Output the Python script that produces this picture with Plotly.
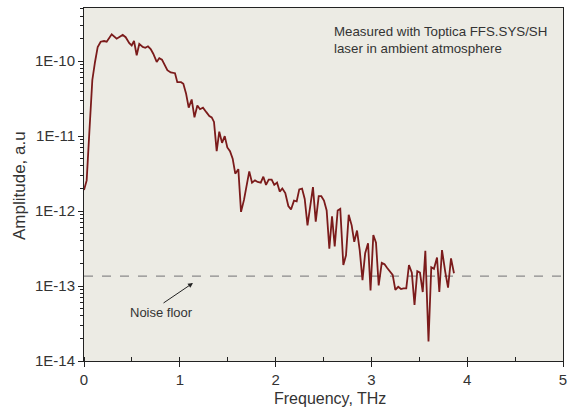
import plotly.graph_objects as go

freq_thz = [
    0.000, 0.028, 0.057, 0.087, 0.115, 0.143, 0.174, 0.209, 0.237, 0.289,
    0.341, 0.404, 0.435, 0.473, 0.498, 0.522, 0.550, 0.577, 0.613, 0.640,
    0.668, 0.696, 0.723, 0.759, 0.786, 0.814, 0.842, 0.870, 0.905, 0.950,
    0.974, 1.013, 1.037, 1.065, 1.093, 1.124, 1.153, 1.183, 1.211, 1.242,
    1.277, 1.308, 1.333, 1.357, 1.385, 1.412, 1.441, 1.469, 1.496, 1.524,
    1.552, 1.579, 1.611, 1.639, 1.670, 1.698, 1.725, 1.754, 1.785, 1.813,
    1.845, 1.872, 1.900, 1.928, 1.959, 1.986, 2.015, 2.043, 2.070, 2.101,
    2.133, 2.161, 2.192, 2.220, 2.247, 2.276, 2.304, 2.333, 2.362, 2.390,
    2.419, 2.450, 2.477, 2.505, 2.533, 2.561, 2.589, 2.617, 2.648, 2.675,
    2.707, 2.735, 2.763, 2.794, 2.821, 2.850, 2.878, 2.907, 2.935, 2.965,
    2.991, 3.020, 3.048, 3.076, 3.108, 3.137, 3.165, 3.194, 3.222, 3.250,
    3.280, 3.309, 3.335, 3.364, 3.392, 3.422, 3.450, 3.479, 3.507, 3.536,
    3.563, 3.596, 3.625, 3.653, 3.685, 3.709, 3.737, 3.771, 3.800, 3.831,
    3.862,
]

amplitude = [
    1.91e-12, 2.57e-12, 1.20e-11, 5.62e-11, 9.77e-11, 1.55e-10, 1.82e-10, 1.86e-10, 1.82e-10, 2.29e-10,
    2.00e-10, 2.24e-10, 2.09e-10, 1.74e-10, 1.62e-10, 1.86e-10, 1.20e-10, 1.70e-10, 1.55e-10, 1.51e-10,
    1.58e-10, 1.45e-10, 1.26e-10, 9.77e-11, 1.10e-10, 1.05e-10, 8.91e-11, 7.59e-11, 7.08e-11, 6.92e-11,
    5.25e-11, 5.25e-11, 5.01e-11, 3.72e-11, 2.40e-11, 3.09e-11, 1.78e-11, 2.57e-11, 2.29e-11, 2.40e-11,
    2.09e-11, 1.86e-11, 1.78e-11, 1.55e-11, 6.31e-12, 1.15e-11, 8.13e-12, 1.00e-11, 7.08e-12, 6.31e-12,
    5.01e-12, 3.16e-12, 3.63e-12, 9.77e-13, 1.41e-12, 2.29e-12, 3.39e-12, 2.40e-12, 2.57e-12, 2.45e-12,
    2.40e-12, 2.88e-12, 2.24e-12, 2.63e-12, 2.63e-12, 2.24e-12, 2.40e-12, 1.82e-12, 2.00e-12, 1.74e-12,
    1.17e-12, 1.05e-12, 1.38e-12, 1.35e-12, 1.95e-12, 2.00e-12, 1.45e-12, 6.46e-13, 1.10e-12, 2.09e-12,
    7.24e-13, 1.58e-12, 1.58e-12, 1.38e-12, 1.02e-12, 3.16e-13, 8.51e-13, 3.39e-13, 1.02e-12, 1.07e-12,
    1.91e-13, 2.57e-13, 8.91e-13, 6.46e-13, 3.89e-13, 5.50e-13, 3.02e-13, 1.20e-13, 2.75e-13, 3.72e-13,
    8.71e-14, 4.79e-13, 3.80e-13, 1.02e-13, 2.04e-13, 1.95e-13, 1.74e-13, 1.58e-13, 1.41e-13, 8.91e-14,
    9.77e-14, 9.12e-14, 9.33e-14, 9.33e-14, 1.91e-13, 1.51e-13, 5.62e-14, 1.58e-13, 1.51e-13, 8.32e-14,
    2.95e-13, 1.82e-14, 1.78e-13, 1.70e-13, 2.40e-13, 8.32e-14, 3.02e-13, 1.55e-13, 9.55e-14, 2.34e-13,
    1.48e-13,
]

noise_floor = 1.36e-13
noise_x = [0, 5]

y_tickvals = [1e-14, 1e-13, 1e-12, 1e-11, 1e-10]
y_ticktext = ["1E-14", "1E-13", "1E-12", "1E-11", "1E-10"]
x_tickvals = [0, 1, 2, 3, 4, 5]

minor_y = [k * 10.0 ** e for e in range(-14, -9) for k in range(2, 10) if k * 10.0 ** e <= 5.2e-10]

FONT = "Liberation Sans, Arial, sans-serif"
TXT = "#333333"

fig = go.Figure()
fig.add_trace(go.Scatter(
    x=noise_x, y=[noise_floor, noise_floor], mode="lines",
    line=dict(color="#8a8a8a", width=1.2, dash="dash"), hoverinfo="skip", showlegend=False))
fig.add_trace(go.Scatter(
    x=freq_thz, y=amplitude, mode="lines",
    line=dict(color="#7b1b1b", width=1.8), showlegend=False))

fig.update_layout(
    width=569, height=412,
    margin=dict(l=84, r=6, t=8, b=51),
    paper_bgcolor="white", plot_bgcolor="#ECEBE4",
    font=dict(family=FONT, color=TXT, size=14),
    xaxis=dict(
        range=[0, 5], tickvals=x_tickvals, showgrid=False, zeroline=False, automargin=False,
        showline=True, linecolor="#222", linewidth=1, mirror=True,
        ticks="outside", ticklen=5, tickcolor="#222",
        minor=dict(dtick=0.5, ticks="inside", ticklen=4, tickcolor="#222"),
        tickfont=dict(size=15, color=TXT),
    ),
    yaxis=dict(
        type="log", range=[-14, -9.29], tickvals=y_tickvals, ticktext=y_ticktext,
        showgrid=False, zeroline=False, automargin=False,
        showline=True, linecolor="#222", linewidth=1, mirror=True,
        ticks="outside", ticklen=5, tickcolor="#222",
        minor=dict(tickvals=minor_y, ticks="outside", ticklen=3, tickcolor="#222"),
        tickfont=dict(size=15, color=TXT),
    ),
    annotations=[
        dict(xref="paper", yref="paper", x=(330 - 84) / 479, y=(361 - 398) / 353,
             text="Frequency, THz", showarrow=False, xanchor="center", yanchor="middle",
             font=dict(size=16, color=TXT)),
        dict(xref="paper", yref="paper", x=(19 - 84) / 479, y=(361 - 186) / 353,
             text="Amplitude, a.u", showarrow=False, xanchor="center", yanchor="middle",
             textangle=-90, font=dict(size=17, color=TXT)),
        dict(xref="paper", yref="paper", x=0.2276, y=0.221, text="", showarrow=True,
             arrowhead=2, arrowsize=1, arrowwidth=1, arrowcolor="#222", ax=-31, ay=21),
        dict(xref="paper", yref="paper", x=0.1608, y=0.136, text="Noise floor",
             showarrow=False, font=dict(size=13, color=TXT), xanchor="center", yanchor="middle"),
        dict(xref="paper", yref="paper", x=(332 - 84) / 479, y=(361 - 22) / 353,
             text="Measured with Toptica FFS.SYS/SH<br>laser in ambient atmosphere",
             showarrow=False, align="left", xanchor="left", yanchor="top",
             font=dict(size=13.3, color=TXT)),
    ],
)

fig.write_html("out.html", config={"displayModeBar": False},
               post_script="document.body.style.margin='0';document.body.style.padding='0';")
